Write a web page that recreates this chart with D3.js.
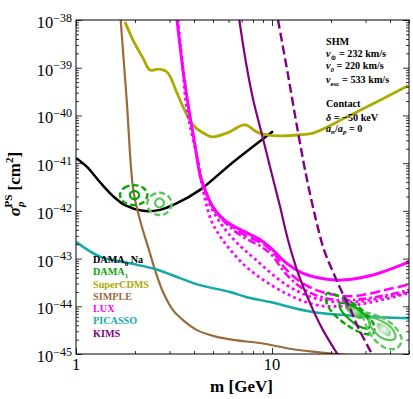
<!doctype html>
<html>
<head>
    <meta charset="utf-8">
    <title>Contact interaction limits, SHM</title>
    <script src="https://cdn.jsdelivr.net/npm/d3@7/dist/d3.min.js"></script>
    <style>
        body { margin: 0; background: #fff; }
        svg text { font-family: "Liberation Serif", "DejaVu Serif", serif; }
        .tick line { stroke: #000; stroke-width: 0.8px; }
    </style>
</head>
<body>
<div id="plot"></div>
<script>
// points are [m in GeV, log10 of sigma_p in cm^2]
var massLabels = [1, 10];
var sigmaExponents = [-38, -39, -40, -41, -42, -43, -44, -45];

var damaNa = [[1, -40.89], [1.138, -41.08], [1.326, -41.40], [1.545, -41.69], [1.778, -41.88],
    [2.197, -42.00], [2.683, -41.98], [3.276, -41.84], [4.293, -41.56], [6.324, -40.98], [10.12, -40.33]];

var superCDMS = [[1.778, -38.04], [1.954, -38.42], [2.197, -38.80], [2.385, -39.05], [2.62, -39.03],
    [2.912, -39.09], [3.276, -39.53], [3.516, -39.82], [3.954, -40.20], [4.66, -40.41], [5.0, -40.45],
    [5.89, -40.37], [7.28, -40.20], [8.38, -40.35], [9.43, -40.41], [10.99, -40.43], [13.42, -40.41],
    [16.19, -40.37], [24.14, -40.03], [35.56, -39.68], [49.4, -39.38]];

var simple = [[1.69, -38.0], [1.814, -39.68], [1.96, -41.56], [2.121, -42.19], [2.385, -42.89],
    [2.53, -43.24], [2.779, -43.70], [3.126, -44.08], [3.516, -44.29], [4.143, -44.50], [5.119, -44.63],
    [6.475, -44.71], [8.686, -44.77], [12.8, -44.90], [19.09, -44.98], [28.12, -45.04]];

var picasso = [[1, -42.65], [1.326, -42.96], [1.886, -43.10], [2.53, -43.22], [3.394, -43.41],
    [4.143, -43.54], [6.106, -43.70], [7.455, -43.81], [9.768, -43.91], [16.19, -44.12],
    [35.56, -44.23], [50, -44.25]];

var kims = [[6.81, -38.0], [7.429, -38.98], [8.027, -39.68], [8.686, -40.24], [9.397, -40.80],
    [10.15, -41.35], [10.99, -41.91], [12.07, -42.61], [13.57, -43.30], [15.81, -43.98],
    [18.21, -44.50], [21.71, -45.02]];

var kimsAlt = [[10.73, -38.0], [12.07, -39.15], [13.57, -40.35], [15.09, -41.35], [16.77, -42.19],
    [18.42, -42.82], [20.48, -43.28], [22.49, -43.66], [25.0, -44.04], [27.47, -44.44], [32.37, -45.0]];

var lux = [[3.276, -38.0], [3.516, -39.05], [3.772, -39.89], [4.047, -40.62], [4.293, -41.25],
    [4.552, -41.56], [5.0, -41.92], [5.558, -42.15], [6.251, -42.30], [7.28, -42.44], [8.89, -42.63],
    [10.0, -42.80], [11.65, -43.07], [14.23, -43.30], [18.64, -43.43], [22.76, -43.45],
    [32.37, -43.35], [50, -43.07]];

var luxDashed = [[4.293, -41.25], [4.552, -41.56], [5.0, -41.92], [5.558, -42.15], [6.251, -42.32],
    [7.28, -42.51], [8.89, -42.68], [10.0, -42.84], [11.65, -43.20], [14.23, -43.51], [18.64, -43.72],
    [25.6, -43.79], [37.72, -43.66], [50, -43.54]];

var luxDashDot = [[4.293, -41.27], [5.0, -41.94], [5.558, -42.17], [6.251, -42.38], [7.28, -42.57],
    [8.89, -42.76], [10.0, -42.93], [11.65, -43.30], [14.23, -43.62], [18.64, -43.83], [25.6, -43.87],
    [37.72, -43.77], [50, -43.66]];

var luxDottedA = [[3.314, -38.0], [3.474, -38.84], [3.686, -39.89], [4.143, -40.87], [4.446, -41.56],
    [4.885, -42.19], [5.43, -42.53], [6.251, -42.86], [7.72, -43.24], [11.65, -43.72], [17.17, -43.98],
    [25.6, -43.98], [37.72, -43.85], [50, -43.72]];

var luxDottedB = [[4.143, -40.87], [4.446, -41.46], [4.828, -41.88], [5.558, -42.30], [6.551, -42.65],
    [8.19, -43.01], [11.93, -43.56], [17.17, -43.85], [25.6, -43.91], [37.72, -43.81], [50, -43.70]];

// DAMA regions: outer (dashed) and inner (solid) contours, plus best-fit patch
var damaDarkLowOuter = [[1.677, -41.67], [1.758, -41.52], [1.97, -41.46], [2.208, -41.52],
    [2.313, -41.67], [2.208, -41.82], [1.97, -41.88], [1.758, -41.82]];
var damaDarkLowInner = [[1.882, -41.67], [1.913, -41.61], [1.988, -41.58], [2.067, -41.61],
    [2.101, -41.67], [2.067, -41.73], [1.988, -41.76], [1.913, -41.73]];
var damaLightLowOuter = [[2.311, -41.85], [2.411, -41.69], [2.667, -41.62], [2.951, -41.69],
    [3.078, -41.85], [2.951, -42.02], [2.667, -42.09], [2.411, -42.02]];
var damaLightLowInner = [[2.53, -41.83], [2.569, -41.77], [2.667, -41.74], [2.769, -41.77],
    [2.812, -41.83], [2.769, -41.90], [2.667, -41.93], [2.569, -41.90]];

var damaDarkHighOuter = [[19.02, -43.73], [23.11, -43.83], [28.12, -44.04], [32.87, -44.36],
    [32.87, -44.57], [29.23, -44.57], [24.05, -44.39], [20.55, -44.15], [19.02, -43.94]];
var damaDarkHighInner = [[22.23, -43.94], [25.5, -43.98], [29.23, -44.15], [31.62, -44.36],
    [30.99, -44.46], [28.12, -44.43], [24.05, -44.22], [22.23, -44.04]];
var damaDarkHighFit = [[23.57, -43.98], [26.51, -44.0], [28.79, -44.12], [29.13, -44.25],
    [27.14, -44.25], [24.42, -44.12]];
var damaLightHighOuter = [[29.23, -44.15], [35.56, -44.22], [42.41, -44.43], [45.89, -44.71],
    [43.26, -44.88], [38.48, -44.88], [33.53, -44.71], [30.42, -44.43]];
var damaLightHighInner = [[31.62, -44.25], [36.97, -44.33], [41.57, -44.5], [42.41, -44.67],
    [39.99, -44.71], [35.56, -44.64], [32.87, -44.5], [31.36, -44.36]];
var damaLightHighFit = [[34.33, -44.35], [37.72, -44.39], [40.46, -44.52], [39.99, -44.63],
    [36.84, -44.58], [34.73, -44.48]];

var legendLabels = [["DAMA", "0", " Na"], ["DAMA", "1", ""], ["SuperCDMS"], ["SIMPLE"],
    ["LUX"], ["PICASSO"], ["KIMS"]];

var cBlack = "#000", cCdms = "#adab00", cSimple = "#9b6a3b", cLux = "#ff00ff",
    cPicasso = "#12a9a9", cKims = "#800080", cDamaDark = "#08a508", cDamaLight = "#5cc75c";
var legendColors = [cBlack, cDamaDark, cCdms, cSimple, cLux, cPicasso, cKims];

var W = 413, H = 399;
var L = 76, R = 409, T = 20, B = 354;

var svg = d3.select("#plot").append("svg")
    .attr("width", W).attr("height", H);

var x = d3.scaleLog().domain([1, 50]).range([L, R]);
var y = d3.scaleLog().domain([1e-45, 1e-38]).range([B, T]);

function px(d) { return x(d[0]); }
function py(d) { return y(Math.pow(10, d[1])); }

var defs = svg.append("defs");
defs.append("clipPath").attr("id", "clip")
    .append("rect").attr("x", L).attr("y", T).attr("width", R - L).attr("height", B - T);

function gradient(id, inner, outer) {
    var g = defs.append("radialGradient").attr("id", id);
    g.append("stop").attr("offset", "0%").attr("stop-color", inner);
    g.append("stop").attr("offset", "100%").attr("stop-color", outer);
}
gradient("gDark", "#b8ecb8", "#2eb42e");
gradient("gLight", "#f0faf0", "#9bd89b");

var line = d3.line().x(px).y(py).curve(d3.curveCatmullRom.alpha(0.5));
var loop = d3.line().x(px).y(py).curve(d3.curveCatmullRomClosed.alpha(0.5));

var plot = svg.append("g").attr("clip-path", "url(#clip)");

function curve(data, color, width, dash) {
    plot.append("path")
        .attr("d", line(data))
        .attr("fill", "none")
        .attr("stroke", color)
        .attr("stroke-width", width)
        .attr("stroke-dasharray", dash || null);
}

function contour(data, color, width, dash, fill) {
    plot.append("path")
        .attr("d", loop(data))
        .attr("fill", fill || "none")
        .attr("stroke", color)
        .attr("stroke-width", width)
        .attr("stroke-dasharray", dash || null);
}

curve(damaNa, cBlack, 2.5);
curve(superCDMS, cCdms, 2.8);
curve(simple, cSimple, 2.2);
curve(picasso, cPicasso, 2.5);

// best-fit patches below the lines
contour(damaDarkHighFit, "none", 0, null, "url(#gDark)");
contour(damaLightHighFit, "none", 0, null, "url(#gLight)");

curve(luxDottedA, cLux, 2.8, "2.8,3.2");
curve(luxDottedB, cLux, 2.8, "2.8,3.2");
curve(luxDashDot, cLux, 2.6, "8,3,2.5,3");
curve(luxDashed, cLux, 2.6, "10,4");
curve(lux, cLux, 3);

contour(damaDarkLowOuter, cDamaDark, 2.4, "6,3");
contour(damaDarkLowInner, cDamaDark, 2.2);
contour(damaLightLowOuter, cDamaLight, 2.4, "6,3");
contour(damaLightLowInner, cDamaLight, 2.2);
contour(damaDarkHighOuter, cDamaDark, 2.4, "6,3");
contour(damaDarkHighInner, cDamaDark, 2.2);
contour(damaLightHighOuter, cDamaLight, 2.4, "6,3");
contour(damaLightHighInner, cDamaLight, 2.2);

curve(kims, cKims, 2.2);
curve(kimsAlt, cKims, 2.4, "9,4");

// ticks on all four sides, pointing inwards
var majorY = sigmaExponents.map(function(e) { return Math.pow(10, e); });
var minorY = [];
sigmaExponents.slice(1).forEach(function(e) {
    for (var k = 2; k < 10; k++) minorY.push(k * Math.pow(10, e));
});
var majorX = massLabels;
var minorX = x.ticks().filter(function(v) { return majorX.indexOf(v) < 0; });

function axis(gen, pos, values, size) {
    svg.append("g")
        .attr("transform", pos)
        .call(gen.tickValues(values).tickSize(-size).tickFormat(""))
        .call(function(g) { g.select(".domain").remove(); });
}
axis(d3.axisLeft(y), "translate(" + L + ",0)", majorY, 6);
axis(d3.axisLeft(y), "translate(" + L + ",0)", minorY, 3);
axis(d3.axisRight(y), "translate(" + R + ",0)", majorY, 6);
axis(d3.axisRight(y), "translate(" + R + ",0)", minorY, 3);
axis(d3.axisBottom(x), "translate(0," + B + ")", majorX, 6);
axis(d3.axisBottom(x), "translate(0," + B + ")", minorX, 3);
axis(d3.axisTop(x), "translate(0," + T + ")", majorX, 6);
axis(d3.axisTop(x), "translate(0," + T + ")", minorX, 3);

svg.append("rect")
    .attr("x", L).attr("y", T).attr("width", R - L).attr("height", B - T)
    .attr("fill", "none").attr("stroke", "#000").attr("stroke-width", 1);

// tick labels
sigmaExponents.forEach(function(e) {
    var t = svg.append("text")
        .attr("x", L - 4)
        .attr("y", y(Math.pow(10, e)) + 8)
        .attr("text-anchor", "end")
        .attr("font-size", 16.5);
    t.append("tspan").text("10");
    t.append("tspan").attr("font-size", 12).attr("dy", -6.5).text("\u2212" + Math.abs(e));
});
massLabels.forEach(function(m) {
    svg.append("text")
        .attr("x", x(m)).attr("y", B + 15.5)
        .attr("text-anchor", "middle")
        .attr("font-size", 16.5)
        .text(m);
});

// axis titles
svg.append("text")
    .attr("x", 241.5).attr("y", 392)
    .attr("text-anchor", "middle")
    .attr("font-size", 17).attr("font-weight", "bold")
    .text("m [GeV]");

var yt = svg.append("text")
    .attr("transform", "translate(20,184) rotate(-90)")
    .attr("text-anchor", "middle")
    .attr("font-size", 17).attr("font-weight", "bold");
yt.append("tspan").attr("font-style", "italic").text("\u03c3");
yt.append("tspan").attr("font-size", 11).attr("font-style", "italic").attr("dy", 4).text("p");
yt.append("tspan").attr("font-size", 11).attr("dx", -6).attr("dy", -12).text("PS");
yt.append("tspan").attr("dy", 8).text(" [cm");
yt.append("tspan").attr("font-size", 11).attr("dy", -7).text("2");
yt.append("tspan").attr("dy", 7).text("]");

// legend
legendLabels.forEach(function(lab, i) {
    var t = svg.append("text")
        .attr("x", 93).attr("y", 263 + i * 12.25)
        .attr("font-size", 10.2).attr("font-weight", "bold")
        .attr("fill", legendColors[i]);
    t.append("tspan").text(lab[0]);
    if (lab.length > 1) {
        t.append("tspan").attr("font-size", 7).attr("dy", 2.5).text(lab[1]);
        t.append("tspan").attr("dy", -2.5).text(lab[2]);
    }
});

// halo model and interaction notes
var notes = [
    [["SHM", ""]],
    [["v", "i"], ["\u2299", "sub"], [" = 232 km/s", ""]],
    [["v", "i"], ["0", "subi"], [" = 220 km/s", ""]],
    [["v", "i"], ["esc", "sub"], [" = 533 km/s", ""]],
    [["Contact", ""]],
    [["\u03b4", "i"], [" = \u221250 keV", ""]],
    [["a", "i"], ["n", "subi"], ["/", ""], ["a", "i"], ["p", "subi"], [" = 0", ""]]
];
var noteY = [45, 57, 69, 83, 107, 120.5, 131.5];
notes.forEach(function(parts, i) {
    var t = svg.append("text")
        .attr("x", 326).attr("y", noteY[i])
        .attr("font-size", 10.2).attr("font-weight", "bold");
    var shift = 0;
    parts.forEach(function(p) {
        var s = t.append("tspan").text(p[0]);
        var sub = p[1].indexOf("sub") === 0;
        if (p[1] === "i" || p[1] === "subi") s.attr("font-style", "italic");
        if (sub) { s.attr("font-size", 7).attr("dy", 2.5 - shift); shift = 2.5; }
        else if (shift) { s.attr("dy", -shift); shift = 0; }
    });
});
</script>
</body>
</html>
